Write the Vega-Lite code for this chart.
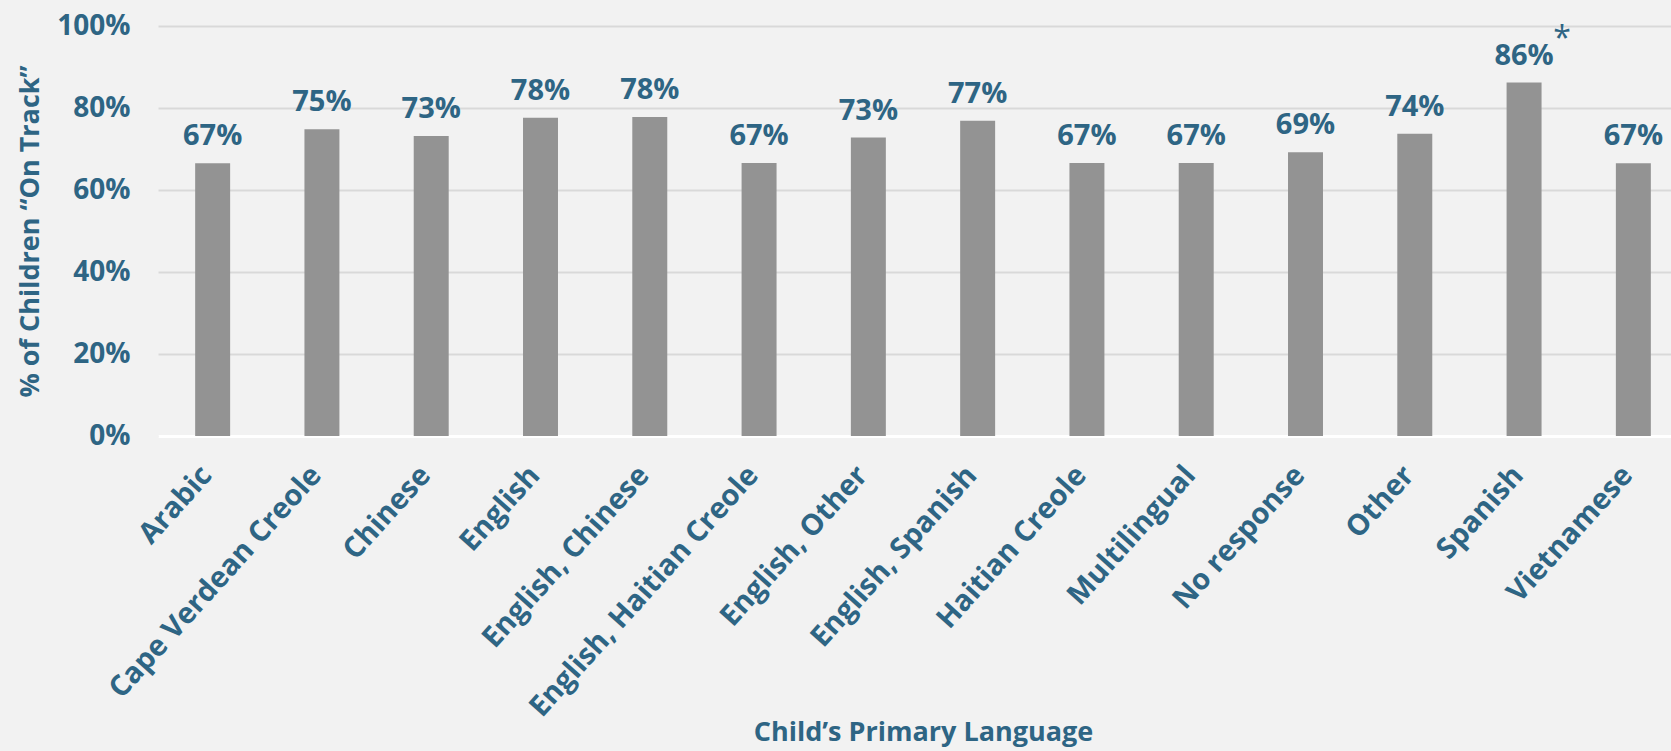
{
  "$schema": "https://vega.github.io/schema/vega-lite/v6.json",
  "autosize": {"type": "none"},
  "width": 1530,
  "height": 410,
  "padding": {"left": 158, "top": 26, "right": 0, "bottom": 315},
  "background": "#F2F2F2",
  "config": {
    "view": {"stroke": null},
    "font": "Open Sans",
    "axis": {
      "labelFont": "Open Sans",
      "titleFont": "Open Sans",
      "labelColor": "#2E6584",
      "titleColor": "#2E6584",
      "labelFontWeight": "bold",
      "titleFontWeight": "bold"
    }
  },
  "data": {
    "values": [
      {"lang": "Arabic", "pct": 0.665, "label": "67%", "note": ""},
      {"lang": "Cape Verdean Creole", "pct": 0.748, "label": "75%", "note": ""},
      {"lang": "Chinese", "pct": 0.732, "label": "73%", "note": ""},
      {"lang": "English", "pct": 0.776, "label": "78%", "note": ""},
      {"lang": "English, Chinese", "pct": 0.778, "label": "78%", "note": ""},
      {"lang": "English, Haitian Creole", "pct": 0.666, "label": "67%", "note": ""},
      {"lang": "English, Other", "pct": 0.728, "label": "73%", "note": ""},
      {"lang": "English, Spanish", "pct": 0.769, "label": "77%", "note": ""},
      {"lang": "Haitian Creole", "pct": 0.666, "label": "67%", "note": ""},
      {"lang": "Multilingual", "pct": 0.666, "label": "67%", "note": ""},
      {"lang": "No response", "pct": 0.692, "label": "69%", "note": ""},
      {"lang": "Other", "pct": 0.737, "label": "74%", "note": ""},
      {"lang": "Spanish", "pct": 0.862, "label": "86%", "note": "*"},
      {"lang": "Vietnamese", "pct": 0.665, "label": "67%", "note": ""}
    ]
  },
  "encoding": {
    "x": {
      "field": "lang",
      "type": "nominal",
      "sort": null,
      "scale": {"paddingInner": 0.68, "paddingOuter": 0.34},
      "axis": {
        "title": "Child’s Primary Language",
        "titleFontSize": 27,
        "titlePadding": 83,
        "labelFontSize": 29,
        "labelAngle": -48,
        "labelPadding": 34,
        "labelOffset": -6,
        "labelLimit": 400,
        "ticks": false,
        "domain": true,
        "domainColor": "#FFFFFF",
        "domainWidth": 3,
        "grid": false
      }
    },
    "y": {
      "field": "pct",
      "type": "quantitative",
      "scale": {"domain": [0, 1]},
      "axis": {
        "title": "% of Children “On Track”",
        "titleFontSize": 27,
        "titlePadding": 12,
        "labelFontSize": 28,
        "labelPadding": 28,
        "format": ".0%",
        "values": [0, 0.2, 0.4, 0.6, 0.8, 1],
        "ticks": false,
        "domain": false,
        "grid": true,
        "gridColor": "#D9D9D9",
        "gridWidth": 2
      }
    }
  },
  "layer": [
    {"mark": {"type": "bar", "color": "#939393"}},
    {
      "mark": {"type": "text", "baseline": "alphabetic", "dy": -18, "fontSize": 29, "fontWeight": "bold", "color": "#2E6584", "font": "Open Sans"},
      "encoding": {"text": {"field": "label"}}
    },
    {
      "transform": [{"filter": "datum.note != ''"}],
      "mark": {"type": "text", "baseline": "alphabetic", "dy": -34, "dx": 38, "fontSize": 32, "color": "#2E6584", "font": "Open Sans"},
      "encoding": {"text": {"field": "note"}}
    }
  ]
}
